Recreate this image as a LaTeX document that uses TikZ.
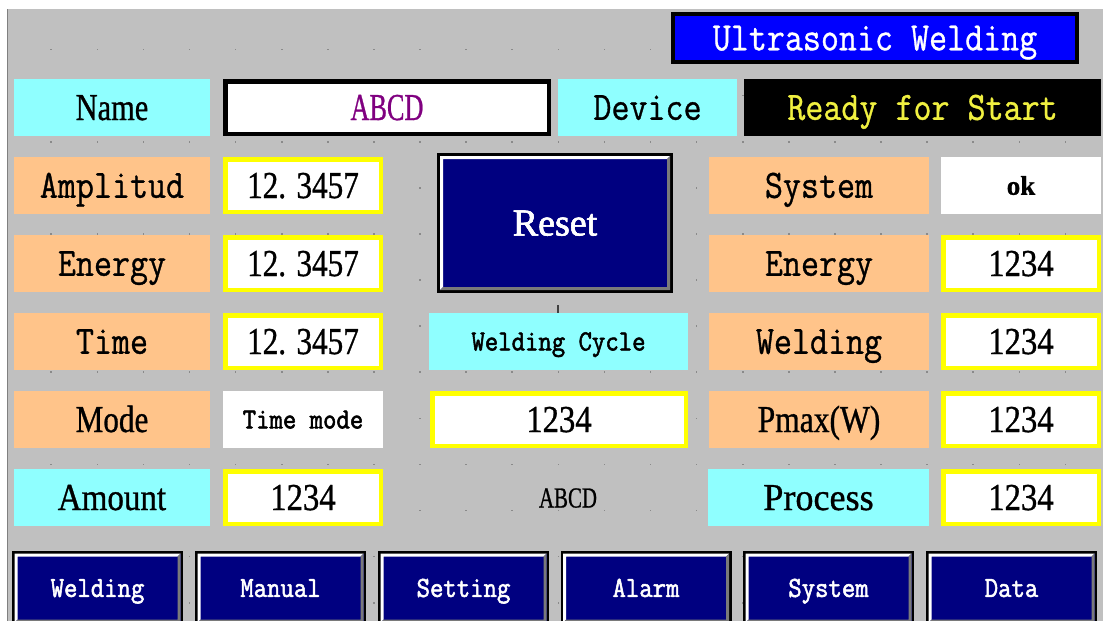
\documentclass[tikz,border=0pt]{standalone}
\usepackage{fontspec}
\usepackage{graphicx}
\setmainfont{Liberation Serif}[FakeBold=0.9]
\newfontfamily\monoR{Latin Modern Mono}[FakeBold=0.9]
\newfontfamily\monoB{Latin Modern Mono}[FakeBold=2]
\usetikzlibrary{calc}
\definecolor{bg}{HTML}{C0C0C0}
\definecolor{cyanL}{HTML}{8FFFFF}
\definecolor{peach}{HTML}{FFC48A}
\definecolor{navyB}{HTML}{000080}
\definecolor{blueT}{HTML}{0000FF}
\definecolor{purp}{HTML}{800080}
\definecolor{yel}{HTML}{FFFF00}
\definecolor{readyY}{HTML}{F0F040}
\definecolor{dotC}{HTML}{8A8A8A}
\definecolor{bevelG}{HTML}{7A7A7A}
% text macros
\newcommand{\mBig}[1]{\scalebox{1}[1.15]{\monoR\fontsize{35}{35}\selectfont #1}}
\newcommand{\mSm}[1]{\scalebox{1}[1.12]{\monoB\fontsize{26}{26}\selectfont #1}}
\newcommand{\sT}[2]{\scalebox{#1}[1]{\fontsize{38}{38}\selectfont #2}}
\newcommand{\bevelbox}[3]{%
 \fill[white] ($(#1.north west)+(#2,#2)$) -- ($(#1.north east)+(-#2,#2)$) -- ($(#1.north east)+(-#3,#3)$) -- ($(#1.north west)+(#3,#3)$) -- ($(#1.south west)+(#3,-#3)$) -- ($(#1.south west)+(#2,-#2)$) -- cycle;
 \fill[bevelG] ($(#1.south east)+(-#2,-#2)$) -- ($(#1.south west)+(#2,-#2)$) -- ($(#1.south west)+(#3,-#3)$) -- ($(#1.south east)+(-#3,-#3)$) -- ($(#1.north east)+(-#3,#3)$) -- ($(#1.north east)+(-#2,#2)$) -- cycle;}
\tikzset{
 base/.style={inner sep=0, text depth=0pt},
 lab/.style={base, fill=peach, minimum width=196, minimum height=57},
 rlab/.style={base, fill=peach, minimum width=220, minimum height=57},
 ybox/.style={base, draw=yel, line width=4.5, fill=white, minimum width=155.5, minimum height=52.5},
 wbox/.style={base, fill=white, minimum width=160, minimum height=57},
 tbig/.style={text height=24.6},
 tser/.style={text height=25},
 tsm/.style={text height=17.8},
 btn/.style={base, tsm, draw=black, line width=2.5, fill=navyB, text=white, minimum width=168.5, minimum height=71.5},
}
\begin{document}
\begin{tikzpicture}[x=1pt,y=-1pt]
\useasboundingbox (0,0) rectangle (1103,621);
\clip (0,0) rectangle (1103,621);
\fill[white] (0,0) rectangle (1103,621);
\fill[bg] (7,9) rectangle (1103,621);
\draw[gray, line width=1] (7.5,9) -- (7.5,621);
% grid dots
\foreach \i in {1,...,23}{
  \foreach \j in {0,...,12}{
    \fill[dotC] ({5.1+46.1*\i-0.8},{49.5+46.1*\j-0.8}) rectangle ++(1.6,1.6);
  }
}
% title
\node[base, tbig, draw=black, line width=4, fill=blueT, text=white, minimum width=404, minimum height=48] (title) at (875,38) {\mBig{Ultrasonic Welding}};
% row 0
\node[base, tser, fill=cyanL, minimum width=196, minimum height=57] (name) at (112,107.5) {\sT{0.8}{Name}};
\node[base, tser, draw=black, line width=4.5, fill=white, text=purp, minimum width=323.5, minimum height=52.5] (nameval) at (387,107.5) {\sT{0.69}{ABCD}};
\node[base, tbig, fill=cyanL, minimum width=179, minimum height=57] (device) at (647.5,107.5) {\mBig{Device}};
\node[base, tbig, fill=black, text=readyY, minimum width=357, minimum height=57] (ready) at (922.5,107.5) {\mBig{Ready for Start}};
% row 1
\node[lab, tbig] (amp) at (112,185.5) {\mBig{Amplitud}};
\node[ybox, tser] (ampval) at (303,185.5) {\sT{0.82}{12. 3457}};
\node[rlab, tbig] (sys) at (819,185.5) {\mBig{System}};
\node[wbox, text height=18.5] (sysval) at (1021,185.5) {\fontsize{27}{27}\selectfont\bfseries ok};
% row 2
\node[lab, tbig] (energy) at (112,263.5) {\mBig{Energy}};
\node[ybox, tser] (energyval) at (303,263.5) {\sT{0.82}{12. 3457}};
\node[rlab, tbig] (renergy) at (819,263.5) {\mBig{Energy}};
\node[ybox, tser] (renergyval) at (1021,263.5) {\sT{0.86}{1234}};
% row 3
\node[lab, tbig] (time) at (112,341.5) {\mBig{Time}};
\node[ybox, tser] (timeval) at (303,341.5) {\sT{0.82}{12. 3457}};
\node[base, tsm, fill=cyanL, minimum width=259, minimum height=57] (wcycle) at (558.5,341.5) {\mSm{Welding Cycle}};
\node[rlab, tbig] (rweld) at (819,341.5) {\mBig{Welding}};
\node[ybox, tser] (rweldval) at (1021,341.5) {\sT{0.86}{1234}};
% row 4
\node[lab, tser] (mode) at (112,419.5) {\sT{0.82}{Mode}};
\node[wbox, tsm] (modeval) at (303,419.5) {\mSm{Time mode}};
\node[ybox, tser, minimum width=253.5] (midval) at (559,419.5) {\sT{0.86}{1234}};
\node[rlab, tser] (pmax) at (819,419.5) {\sT{0.83}{Pmax(W)}};
\node[ybox, tser] (pmaxval) at (1021,419.5) {\sT{0.86}{1234}};
% row 5
\node[base, tser, fill=cyanL, minimum width=196, minimum height=57] (amount) at (112,497.5) {\sT{0.87}{Amount}};
\node[ybox, tser] (amountval) at (303,497.5) {\sT{0.86}{1234}};
\node[base, text height=19] (abcd) at (568,498) {\scalebox{0.72}[1]{\fontsize{29}{29}\selectfont ABCD}};
\node[base, tser, fill=cyanL, minimum width=221, minimum height=57] (process) at (818.5,497.5) {\sT{0.95}{Process}};
\node[ybox, tser] (processval) at (1021,497.5) {\sT{0.86}{1234}};
% reset button
\node[base, tser, draw=black, line width=3, fill=navyB, text=white, minimum width=233, minimum height=137] (reset) at (555,223) {\fontsize{38}{38}\selectfont Reset};
\bevelbox{reset}{3}{6}
\node[base, tser, text=white] at (reset.center) {\fontsize{38}{38}\selectfont Reset};
% tick
\coordinate (tk1) at (558,305);
\coordinate (tk2) at (558,313);
\draw[black!75, line width=1.2] (tk1) -- (tk2);
% bottom buttons
\foreach \nm/\xx/\tx in {bwelding/97.5/Welding, bmanual/280.5/Manual, bsetting/463.5/Setting, balarm/646/Alarm, bsystem/828.5/System, bdata/1011.5/Data}{
  \node[btn] (\nm) at (\xx,588) {};
  \bevelbox{\nm}{2.5}{5.5}
  \node[base, tsm, text=white] at (\nm.center) {\mSm{\tx}};
}
\end{tikzpicture}
\end{document}
